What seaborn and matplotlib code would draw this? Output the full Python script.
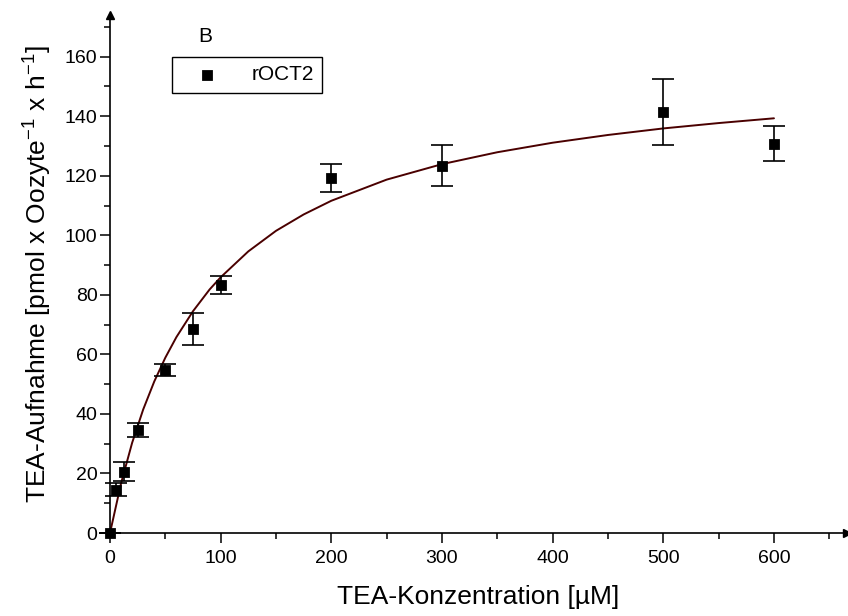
import matplotlib
matplotlib.use("Agg")
import matplotlib.pyplot as plt
import seaborn as sns
import numpy as np
import pandas as pd
from matplotlib.ticker import MultipleLocator

# measured data
conc = [0, 5, 12.5, 25, 50, 75, 100, 200, 300, 500, 600]
uptake = [0, 14.5, 20.5, 34.6, 54.8, 68.6, 83.4, 119.3, 123.4, 141.5, 130.8]
err = [0, 2.2, 3.2, 2.3, 2.1, 5.3, 3.0, 4.8, 7.0, 11.0, 6.0]

# fitted curve
fit_x = [0, 10, 20, 30, 40, 50, 60, 75, 90, 100, 125, 150, 175, 200, 250,
         300, 350, 400, 450, 500, 550, 600]
fit_y = [0, 16.7, 30.3, 41.5, 50.9, 58.9, 65.8, 74.5, 81.8, 85.9, 94.6, 101.5,
         107.0, 111.6, 118.7, 123.9, 127.9, 131.1, 133.7, 135.9, 137.7, 139.3]

xticks = [0, 100, 200, 300, 400, 500, 600]
yticks = [0, 20, 40, 60, 80, 100, 120, 140, 160]

sns.set_style("ticks")
plt.rcParams['font.family'] = ['Liberation Sans', 'DejaVu Sans']
plt.rcParams['mathtext.fontset'] = 'custom'
plt.rcParams['mathtext.rm'] = 'Liberation Sans'
plt.rcParams['mathtext.it'] = 'Liberation Sans'
plt.rcParams['text.color'] = 'black'
plt.rcParams['axes.labelcolor'] = 'black'
plt.rcParams['xtick.color'] = 'black'
plt.rcParams['ytick.color'] = 'black'

fig = plt.figure(figsize=(8.48, 6.16), dpi=100)
ax = fig.add_axes([110/848, 83/616, 737/848, 518/616])

df_fit = pd.DataFrame({"x": fit_x, "y": fit_y})
sns.lineplot(data=df_fit, x="x", y="y", ax=ax, color="#4a0000", lw=1.4, zorder=2)

ax.errorbar(conc, uptake, yerr=err, fmt='none', ecolor='black', elinewidth=1.2,
            capsize=8, capthick=1.2, zorder=3, clip_on=False)
df = pd.DataFrame({"x": conc, "y": uptake})
sns.scatterplot(data=df, x="x", y="y", ax=ax, marker='s', s=52, color='black',
                edgecolor='black', zorder=4, clip_on=False, label='rOCT2')

ax.set_xlim(0, 666)
ax.set_ylim(0, 174)
ax.set_xticks(xticks)
ax.set_yticks(yticks)
ax.xaxis.set_minor_locator(MultipleLocator(50))
ax.yaxis.set_minor_locator(MultipleLocator(10))
ax.tick_params(which='major', direction='out', length=7, width=1.1, labelsize=14,
               colors='black')
ax.tick_params(axis='x', which='major', pad=5)
ax.tick_params(axis='y', which='major', pad=2)
ax.tick_params(which='minor', direction='out', length=4, width=1.1)
for s in ['top', 'right']:
    ax.spines[s].set_visible(False)
for s in ['left', 'bottom']:
    ax.spines[s].set_linewidth(1.2)
    ax.spines[s].set_color('black')

# arrows on axes ends
ax.plot(1, 0, marker='>', color='black', markersize=6, transform=ax.transAxes, clip_on=False)
ax.plot(0, 1, marker='^', color='black', markersize=6, transform=ax.transAxes, clip_on=False)

ax.set_xlabel("TEA-Konzentration [µM]", fontsize=19, labelpad=13)
ax.set_ylabel(r"TEA-Aufnahme [pmol x Oozyte$^{-1}$ x h$^{-1}$]", fontsize=19, labelpad=8)

leg = ax.legend(loc='upper left', bbox_to_anchor=(62/737, 476/518), borderaxespad=0,
                fancybox=False, edgecolor='black', framealpha=1, fontsize=15,
                handletextpad=0.8, handlelength=2.6, markerscale=1.0, borderpad=0.4)
leg.get_frame().set_linewidth(1.0)

fig.text(205/848, 1 - 37/616, "B", fontsize=15, ha='center', va='center')

fig.savefig("out.png", dpi=100)
